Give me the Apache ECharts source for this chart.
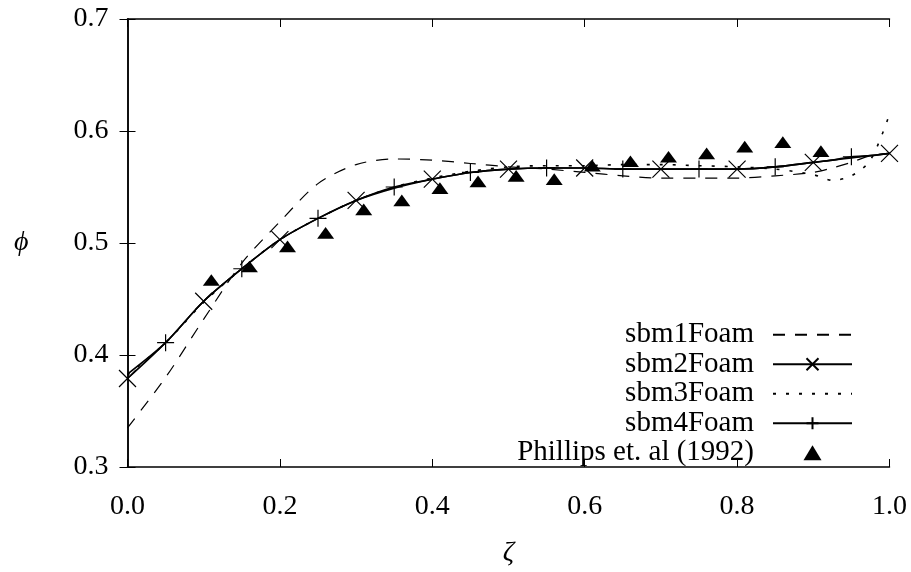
<!DOCTYPE html>
<html>
<head>
<meta charset="utf-8">
<script src="https://cdn.jsdelivr.net/npm/echarts@6/dist/echarts.min.js"></script>
<style>html,body{margin:0;padding:0;background:#fff}#chart{width:911px;height:572px}</style>
</head>
<body>
<div id="chart"></div>
<script>
// ---- data ----
const zeta = [0,0.05,0.1,0.15,0.2,0.25,0.3,0.35,0.4,0.45,0.5,0.55,0.6,0.65,0.7,0.75,0.8,0.85,0.9,0.925,0.95,0.975,1.0];
const sbm1 = [0.335,0.380,0.432,0.482,0.519,0.553,0.570,0.575,0.574,0.571,0.568,0.566,0.563,0.560,0.558,0.558,0.558,0.560,0.563,0.567,0.572,0.578,0.580];
const sbm2 = [0.379,0.411,0.448,0.477,0.503,0.522,0.538,0.549,0.557,0.563,0.566,0.567,0.567,0.566,0.566,0.566,0.566,0.568,0.572,0.574,0.576,0.578,0.580];
const sbm3 = [0.382,0.411,0.447,0.477,0.503,0.522,0.538,0.550,0.558,0.564,0.568,0.569,0.569,0.570,0.570,0.569,0.568,0.566,0.561,0.556,0.560,0.574,0.615];
const sbm4 = [0.383,0.411,0.448,0.477,0.503,0.522,0.538,0.550,0.557,0.563,0.566,0.567,0.567,0.566,0.566,0.566,0.566,0.568,0.572,0.574,0.577,0.578,0.580];
const phillipsX = [0.11,0.16,0.21,0.26,0.31,0.36,0.41,0.46,0.51,0.56,0.61,0.66,0.71,0.76,0.81,0.86,0.91];
const phillipsY = [0.467,0.479,0.497,0.509,0.530,0.538,0.549,0.555,0.560,0.557,0.569,0.573,0.577,0.580,0.586,0.590,0.582];
const xTicks = [0.0,0.2,0.4,0.6,0.8,1.0];
const yTicks = [0.3,0.4,0.5,0.6,0.7];
const seriesNames = ['sbm1Foam','sbm2Foam','sbm3Foam','sbm4Foam','Phillips et. al (1992)'];

const CROSS = 'path://M0,0L20,20M20,0L0,20';
const PLUS = 'path://M10,0L10,20M0,10L20,10';
const TRI = 'path://M9,0L18,15L0,15Z';
const FONT = 'Liberation Serif';

function lineData(ys, markerTest) {
  return zeta.map((x, i) => {
    const item = { value: [x, ys[i]] };
    if (!markerTest || !markerTest(x)) item.symbol = 'none';
    return item;
  });
}
const isTenth = x => Math.abs(x * 10 - Math.round(x * 10)) < 1e-6;
const isOddTwentieth = x => Math.abs(x * 20 - Math.round(x * 20)) < 1e-6 && !isTenth(x);

const chart = echarts.init(document.getElementById('chart'), null, { renderer: 'canvas' });
const axisLine = { show: true, lineStyle: { color: '#000', width: 1.5 } };
const tick = { show: true, inside: true, length: 8, lineStyle: { color: '#000', width: 1 } };
const labelStyle = { color: '#000', fontFamily: FONT, fontSize: 28 };

chart.setOption({
  animation: false,
  backgroundColor: '#fff',
  textStyle: { fontFamily: FONT },
  grid: { left: 127.5, right: 21.5, top: 19, bottom: 96 },
  xAxis: [{
    type: 'value', min: 0, max: 1, interval: 0.2, position: 'bottom',
    axisLine, axisTick: tick, splitLine: { show: false },
    axisLabel: Object.assign({ margin: 26, formatter: v => v.toFixed(1) }, labelStyle),
    name: 'ζ', nameLocation: 'middle', nameGap: 72,
    nameTextStyle: { color: '#000', fontFamily: FONT, fontSize: 28, fontStyle: 'italic' }
  }, {
    type: 'value', min: 0, max: 1, interval: 0.2, position: 'top',
    axisLine, axisTick: tick, splitLine: { show: false }, axisLabel: { show: false }
  }],
  yAxis: [{
    type: 'value', min: 0.3, max: 0.7, interval: 0.1, position: 'left',
    axisLine, axisTick: tick, splitLine: { show: false },
    axisLabel: Object.assign({ margin: 19, formatter: v => v.toFixed(1) }, labelStyle),
    name: 'ϕ', nameLocation: 'middle', nameGap: 99, nameRotate: 0,
    nameTextStyle: { color: '#000', fontFamily: FONT, fontSize: 28, fontStyle: 'italic' }
  }, {
    type: 'value', min: 0.3, max: 0.7, interval: 0.1, position: 'right',
    axisLine, axisTick: tick, splitLine: { show: false }, axisLabel: { show: false }
  }],
  legend: {
    orient: 'vertical', right: 53, top: 315, align: 'right',
    itemWidth: 79, itemHeight: 15, itemGap: 0,
    data: [
      { name: seriesNames[0], itemStyle: { opacity: 0 } },
      { name: seriesNames[1] },
      { name: seriesNames[2], itemStyle: { opacity: 0 } },
      { name: seriesNames[3] },
      { name: seriesNames[4] }
    ],
    textStyle: { color: '#000', fontFamily: FONT, fontSize: 29, lineHeight: 29.5, padding: [0, 14, 0, 0] }
  },
  series: [{
    name: seriesNames[0], type: 'line', smooth: 0.3, symbol: 'none',
    data: lineData(sbm1, null),
    lineStyle: { color: '#000', width: 1.2, type: [12, 10] }, itemStyle: { color: '#000' }
  }, {
    name: seriesNames[1], type: 'line', smooth: 0.3, symbol: CROSS, symbolSize: 17, showAllSymbol: true,
    data: lineData(sbm2, isTenth),
    lineStyle: { color: '#000', width: 1.6 },
    itemStyle: { color: '#000', borderColor: '#000', borderWidth: 1.2 }
  }, {
    name: seriesNames[2], type: 'line', smooth: 0.3, symbol: 'none',
    data: lineData(sbm3, null),
    lineStyle: { color: '#000', width: 1.6, type: [3, 10] }, itemStyle: { color: '#000' }
  }, {
    name: seriesNames[3], type: 'line', smooth: 0.3, symbol: PLUS, symbolSize: 17, showAllSymbol: true,
    data: lineData(sbm4, isOddTwentieth),
    lineStyle: { color: '#000', width: 1.6 },
    itemStyle: { color: '#000', borderColor: '#000', borderWidth: 1.2 }
  }, {
    name: seriesNames[4], type: 'scatter', symbol: TRI, symbolSize: [17, 14], symbolKeepAspect: true,
    data: phillipsX.map((x, i) => [x, phillipsY[i]]),
    itemStyle: { color: '#000', opacity: 1 }
  }]
});
</script>
</body>
</html>
